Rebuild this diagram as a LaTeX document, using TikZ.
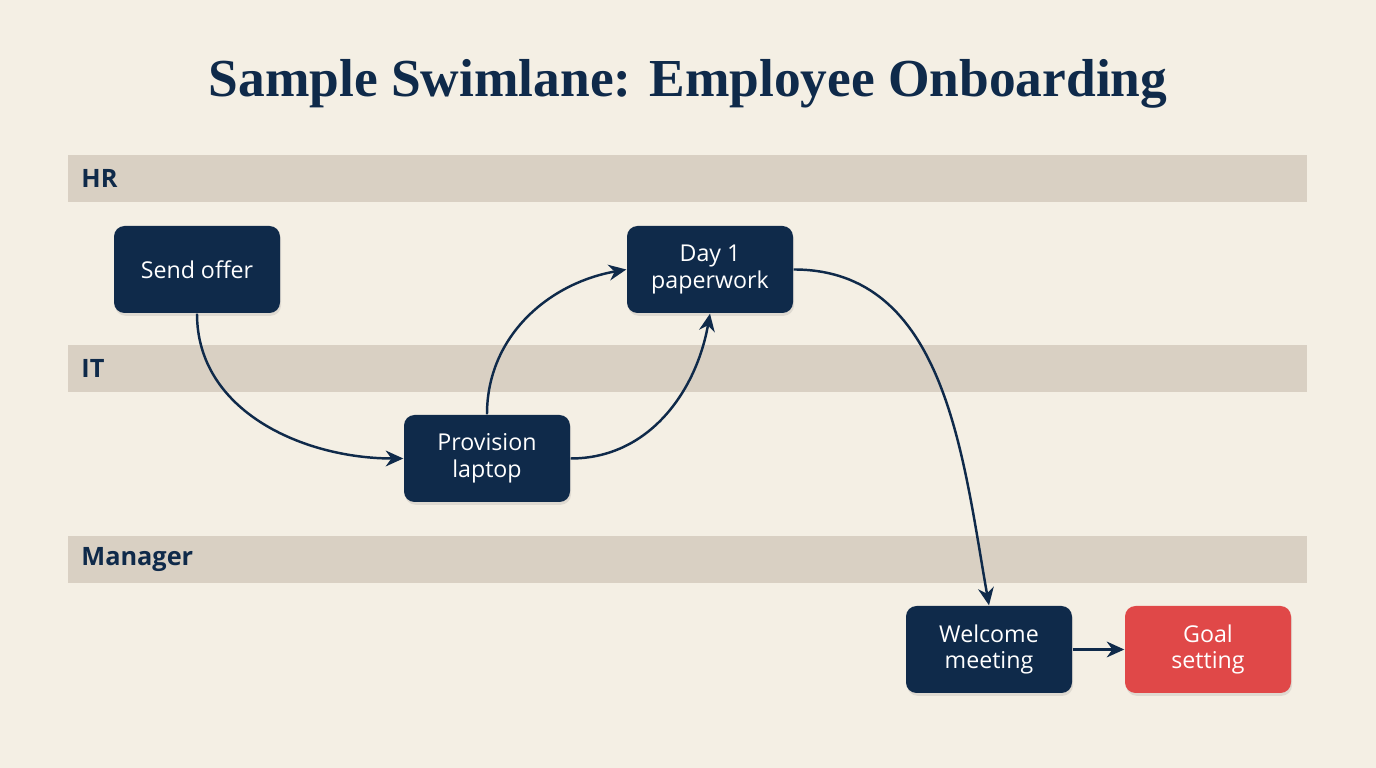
\documentclass[tikz,border=0pt]{standalone}
\usepackage{fontspec}
\setmainfont{Liberation Serif}
\setsansfont{Open Sans}
\usetikzlibrary{arrows.meta,shadows}
\definecolor{bgcol}{HTML}{F4EFE4}
\definecolor{lanecol}{HTML}{D9D0C3}
\definecolor{navy}{HTML}{0F2A4A}
\definecolor{goalred}{HTML}{E04848}
\begin{document}
\begin{tikzpicture}
    [lane/.style={fill=lanecol, draw=none},
      lanelabel/.style={anchor=west, font=\sffamily\bfseries\fontsize{7.2}{8}\selectfont, text=navy},
      task/.style={rectangle, rounded corners=3pt, minimum width=1.66cm, minimum height=0.87cm,
        fill=navy, text=white, align=center, font=\sffamily\fontsize{6.6}{7.6}\selectfont,
        drop shadow={opacity=0.18, shadow xshift=0.3pt, shadow yshift=-0.8pt}},
      flow/.style={-{Stealth[length=5pt, width=4.5pt]}, navy, line width=0.7pt}]
    \useasboundingbox[fill=bgcol] (0,0) rectangle (13.76,7.68);
    \node[font=\bfseries\fontsize{15.2}{18}\selectfont, text=navy] (title) at (6.88,6.84)
      {Sample Swimlane: Employee Onboarding};
    % lanes
    \fill[lane] (0.68,5.66) rectangle (13.07,6.13);
    \fill[lane] (0.68,3.76) rectangle (13.07,4.23);
    \fill[lane] (0.68,1.85) rectangle (13.07,2.32);
    \node[lanelabel] (hr) at (0.69,5.895) {HR};
    \node[lanelabel] (it) at (0.69,3.995) {IT};
    \node[lanelabel] (mgr) at (0.69,2.085) {Manager};
    % tasks
    \node[task] (offer) at (1.97,4.985) {Send offer};
    \node[task] (paper) at (7.10,4.985) {Day 1\\paperwork};
    \node[task] (laptop) at (4.87,3.095) {Provision\\laptop};
    \node[task] (welcome) at (9.89,1.185) {Welcome\\meeting};
    \node[task, fill=goalred] (goal) at (12.08,1.185) {Goal\\setting};
    % flows
    \draw[flow] (offer.south) to[out=-90, in=180] (laptop.west);
    \draw[flow] (laptop.north) to[out=90, in=190] (paper.west);
    \draw[flow] (laptop.east) to[out=0, in=-100] (paper.south);
    \draw[flow] (paper.east) to[out=0, in=100] (welcome.north);
    \draw[flow] (welcome) -- (goal);
\end{tikzpicture}
\end{document}
